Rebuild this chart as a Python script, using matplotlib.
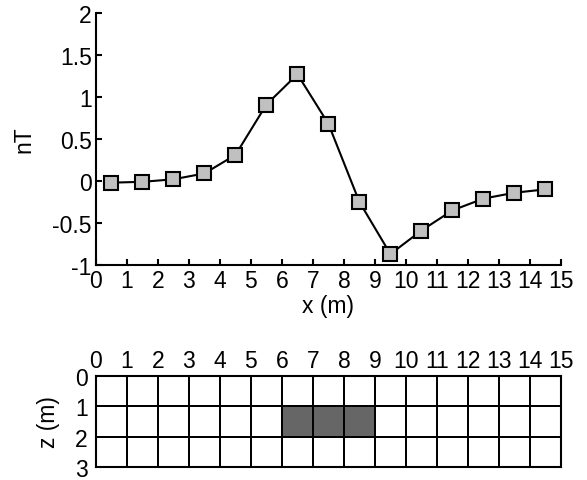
import numpy as np
import matplotlib
matplotlib.use('Agg')
import matplotlib.pyplot as plt
from matplotlib.colors import ListedColormap

plt.rcParams['font.family'] = ['Liberation Sans', 'DejaVu Sans']

# magnetic anomaly profile
x_pos = [0.5, 1.5, 2.5, 3.5, 4.5, 5.5, 6.5, 7.5, 8.5, 9.5, 10.5, 11.5, 12.5, 13.5, 14.5]
field_nT = [-0.02, -0.01, 0.02, 0.09, 0.31, 0.91, 1.27, 0.68, -0.25, -0.87, -0.59, -0.35, -0.21, -0.14, -0.10]

# model grid (15 x 3 cells), magnetised body
n_cols = 15
n_rows = 3
body_row = 1
body_cols = [6, 7, 8]

model = np.zeros((n_rows, n_cols))
model[body_row, body_cols] = 1

fs = 16.5

fig = plt.figure(figsize=(5.87, 4.81), dpi=100)

ax1 = fig.add_axes([0.1635, 0.447, 0.792, 0.524])
ax1.plot(x_pos, field_nT, color='black', lw=1.5, marker='s', ms=9.5,
         mfc='#c0c0c0', mec='black', mew=1.5)
ax1.set_xlim(0, 15)
ax1.set_ylim(-1, 2)
ax1.set_xticks(range(0, 16))
ax1.set_yticks([-1, -0.5, 0, 0.5, 1, 1.5, 2])
ax1.set_yticklabels(['-1', '-0.5', '0', '0.5', '1', '1.5', '2'])
ax1.spines['top'].set_visible(False)
ax1.spines['right'].set_visible(False)
for s in ['left', 'bottom']:
    ax1.spines[s].set_linewidth(1.5)
ax1.tick_params(direction='in', length=4, width=1.5, labelsize=fs, pad=3)
ax1.set_xlabel('x (m)', fontsize=fs, labelpad=1)
ax1.set_ylabel('nT', fontsize=fs, labelpad=12)

ax2 = fig.add_axes([0.1635, 0.027, 0.792, 0.189])
xe = np.arange(n_cols + 1)
ze = np.arange(n_rows + 1)
ax2.pcolormesh(xe, ze, model, cmap=ListedColormap(['white', '#666666']),
               edgecolors='black', linewidth=1.4)
ax2.set_xlim(0, 15)
ax2.set_ylim(3, 0)
ax2.set_xticks(range(0, 16))
ax2.set_yticks(range(0, 4))
ax2.xaxis.tick_top()
ax2.tick_params(axis='x', length=0, labelsize=fs, pad=3)
ax2.tick_params(axis='y', length=0, labelsize=fs, pad=6)
for s in ax2.spines.values():
    s.set_linewidth(1.5)
ax2.set_ylabel('z (m)', fontsize=fs, labelpad=11)

fig.savefig('out.png', dpi=100)
